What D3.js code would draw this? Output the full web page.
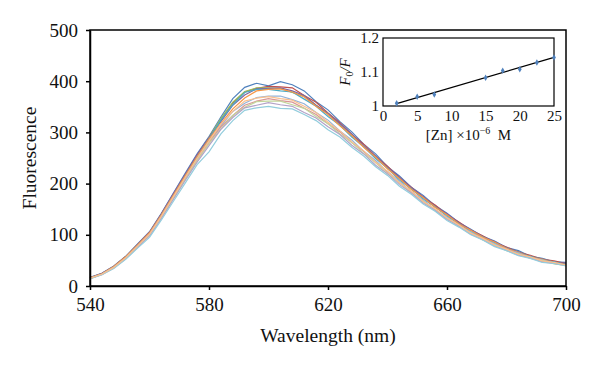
<!DOCTYPE html>
<html><head><meta charset="utf-8">
<script src="https://cdn.jsdelivr.net/npm/d3@7"></script>
<style>html,body{margin:0;padding:0;background:#fff;} svg{display:block;font-family:"Liberation Serif","DejaVu Serif",serif;}</style>
</head><body>
<svg id="c" width="600" height="369"></svg>
<script>
// ---------- data ----------
const wavelengths = d3.range(540, 701, 4); // 540..700 nm, sampling grid
const seriesColors = ["#4F81BD","#C0504D","#9BBB59","#8064A2","#4BACC6","#F79646","#95B3D7","#D99694","#C3D69B","#B3A2C7","#93CDDD","#FAC090"];
const s1  = [17,25,39,58,82,106,142,181,220,258,292,330,366,388,396,391,399,393,381,360,344,321,301,277,258,233,215,193,177,157,142,124,111,97,88,75,69,58,54,47,46];
const s2  = [16,24,38,57,80,104,140,178,216,255,289,324,357,379,386,390,389,387,372,359,338,319,296,277,253,234,211,193,173,158,139,125,109,98,85,76,66,60,52,49,44];
const s3  = [16,24,37,56,80,103,139,177,216,254,290,327,359,380,387,387,386,378,371,353,337,314,295,272,253,230,211,189,173,154,139,121,109,95,86,73,67,57,53,46,43];
const s4  = [16,25,38,57,81,105,141,180,218,256,290,321,353,373,385,386,387,381,372,353,337,317,297,273,254,231,213,192,175,155,141,123,110,96,87,74,67,57,53,46,44];
const s5  = [15,23,37,56,79,102,138,176,214,252,287,324,354,378,384,384,381,379,365,351,331,314,291,272,249,230,207,190,170,155,136,122,106,96,83,74,64,58,50,47,42];
const s6  = [16,24,38,57,80,104,139,177,215,253,287,317,346,367,381,384,385,379,369,351,335,313,294,271,252,229,210,189,173,154,139,121,109,95,86,73,66,56,52,45,42];
const s7  = [15,23,36,55,78,101,136,173,211,249,283,313,341,357,368,371,371,364,356,339,324,303,285,263,245,223,205,184,168,149,135,117,106,92,83,71,65,55,51,44,41];
const s8  = [15,23,36,54,77,100,135,172,210,247,280,311,333,353,361,366,362,359,347,335,317,301,280,263,241,223,201,185,165,150,132,119,103,93,80,72,62,56,48,45,41];
const s9  = [15,23,36,54,77,99,134,171,208,245,278,307,333,349,360,361,361,354,347,331,317,297,280,259,241,219,202,181,166,147,133,116,104,90,81,69,63,54,50,43,40];
const s10 = [15,22,35,53,76,98,132,169,206,242,274,306,329,348,353,358,354,351,339,328,311,296,275,258,236,219,198,182,162,148,130,117,101,91,78,70,60,55,47,44,40];
const s11 = [14,22,34,52,74,95,129,165,201,237,262,297,323,343,348,351,347,346,335,323,305,291,271,254,233,216,195,179,160,146,128,115,100,90,77,69,59,54,46,44,39];
const s12 = [15,23,36,55,78,101,136,174,212,249,283,316,341,361,367,370,366,363,351,339,320,303,282,264,242,224,202,185,165,151,133,119,103,93,80,72,62,57,49,46,41];
const spectra = [s1,s2,s3,s4,s5,s6,s7,s8,s9,s10,s11,s12];
const xTicks = [540,580,620,660,700];
const yTicks = [0,100,200,300,400,500];

const znConc = [2,5,7.5,15,17.5,20,22.5,25];
const f0F    = [1.008,1.027,1.034,1.083,1.104,1.108,1.128,1.143];
const fitLine = [[2,1.007],[25,1.143]];
const insetXTicks = [0,5,10,15,20,25];
const insetYTicks = [1,1.1,1.2];

// ---------- main chart ----------
const svg = d3.select("#c");
const M = {left:90, right:566, top:30, bottom:286};
const x = d3.scaleLinear().domain([540,700]).range([M.left,M.right]);
const y = d3.scaleLinear().domain([0,500]).range([M.bottom,M.top]);

const line = d3.line().x((d,i)=>x(wavelengths[i])).y(d=>y(d));
svg.append("g").selectAll("path").data(spectra).join("path")
  .attr("d", line).attr("fill","none")
  .attr("stroke",(d,i)=>seriesColors[i]).attr("stroke-width",1.2);

// frame
svg.append("rect").attr("x",M.left).attr("y",M.top)
  .attr("width",M.right-M.left).attr("height",M.bottom-M.top)
  .attr("fill","none").attr("stroke","#000").attr("stroke-width",1.5);

const xAxis = svg.append("g").attr("transform",`translate(0,${M.bottom})`)
  .call(d3.axisBottom(x).tickValues(xTicks).tickSize(4).tickSizeOuter(0).tickPadding(8));
const yAxis = svg.append("g").attr("transform",`translate(${M.left},0)`)
  .call(d3.axisLeft(y).tickValues(yTicks).tickSize(4).tickSizeOuter(0).tickPadding(8));
[xAxis,yAxis].forEach(a=>{
  a.select(".domain").attr("stroke","#000").attr("stroke-width",1.5);
  a.selectAll(".tick line").attr("stroke","#000").attr("stroke-width",1.5);
  a.selectAll("text").attr("font-family","Liberation Serif, serif").attr("font-size",19).attr("fill","#111");
});

svg.append("text").attr("x",(M.left+M.right)/2).attr("y",342).attr("text-anchor","middle")
  .attr("font-size",19.5).attr("fill","#111").text("Wavelength (nm)");
svg.append("text").attr("transform",`translate(36,${(M.top+M.bottom)/2}) rotate(-90)`)
  .attr("text-anchor","middle").attr("font-size",19.5).attr("fill","#111").text("Fluorescence");

// ---------- inset ----------
const I = {left:383, right:554, top:38, bottom:106};
const ix = d3.scaleLinear().domain([0,25]).range([I.left,I.right]);
const iy = d3.scaleLinear().domain([1,1.2]).range([I.bottom,I.top]);
const ig = svg.append("g");
ig.append("rect").attr("x",I.left).attr("y",I.top).attr("width",I.right-I.left).attr("height",I.bottom-I.top)
  .attr("fill","#fff").attr("stroke","#000").attr("stroke-width",1.2);
ig.append("path").datum(fitLine).attr("d",d3.line().x(d=>ix(d[0])).y(d=>iy(d[1])))
  .attr("stroke","#000").attr("stroke-width",1.2).attr("fill","none");
ig.selectAll("path.pt").data(znConc).join("path").attr("class","pt")
  .attr("d",d3.symbol().type(d3.symbolDiamond).size(12))
  .attr("transform",(d,i)=>`translate(${ix(d)},${iy(f0F[i])})`)
  .attr("fill","#4F81BD");
const ixa = ig.append("g").attr("transform",`translate(0,${I.bottom})`)
  .call(d3.axisBottom(ix).tickValues(insetXTicks).tickSize(0).tickPadding(4));
const iya = ig.append("g").attr("transform",`translate(${I.left},0)`)
  .call(d3.axisLeft(iy).tickValues(insetYTicks).tickFormat(d3.format("~g")).tickSize(0).tickPadding(4));
[ixa,iya].forEach(a=>{
  a.select(".domain").remove();
  a.selectAll("text").attr("font-family","Liberation Serif, serif").attr("font-size",15).attr("fill","#111");
});
const xl = ig.append("text").attr("x",(I.left+I.right)/2).attr("y",140).attr("text-anchor","middle")
  .attr("font-size",15).attr("fill","#111");
xl.append("tspan").text("[Zn] \u00D710");
xl.append("tspan").attr("font-size",10).attr("dy",-6).text("\u22126");
xl.append("tspan").attr("dy",6).text("\u00A0 M");
const yl = ig.append("text").attr("transform",`translate(350,${(I.top+I.bottom)/2}) rotate(-90)`)
  .attr("text-anchor","middle").attr("font-size",15).attr("font-style","italic").attr("fill","#111");
yl.append("tspan").text("F");
yl.append("tspan").attr("font-size",10).attr("dy",3).attr("font-style","normal").text("0");
yl.append("tspan").attr("dy",-3).text("/F");
</script>
</body></html>
